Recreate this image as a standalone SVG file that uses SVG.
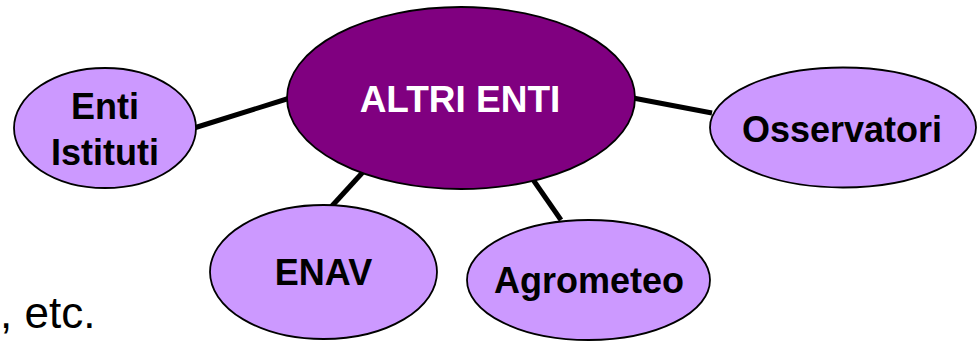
<svg xmlns="http://www.w3.org/2000/svg" width="978" height="341" viewBox="0 0 978 341">
<style>
.node ellipse{fill:#CC99FF;stroke:#000;stroke-width:1.8}
#center ellipse{fill:#800080}
.lbl{font-family:"Liberation Sans",Arial,sans-serif;font-weight:bold;font-size:36px;fill:#000;text-anchor:middle}
#center .lbl{fill:#fff;font-size:37px}
#connectors line{stroke:#000;stroke-width:5;stroke-linecap:butt}
.plain{font-family:"Liberation Sans",Arial,sans-serif;font-size:44px;fill:#000}
</style>
<rect width="978" height="341" fill="#fff"/>
<g id="connectors">
<line x1="194" y1="128" x2="290" y2="98"/>
<line x1="633" y1="98" x2="712" y2="113"/>
<line x1="363" y1="172" x2="331" y2="207"/>
<line x1="527" y1="171" x2="561" y2="220"/>
</g>
<g id="center" class="node">
<ellipse cx="461" cy="98" rx="174" ry="91"/>
<text class="lbl" x="460" y="112">ALTRI ENTI</text>
</g>
<g id="enti-istituti" class="node">
<ellipse cx="105" cy="128" rx="91" ry="60"/>
<text class="lbl" x="105" y="119">Enti</text>
<text class="lbl" x="105" y="165">Istituti</text>
</g>
<g id="osservatori" class="node">
<ellipse cx="843" cy="127.5" rx="133" ry="60"/>
<text class="lbl" x="842" y="142">Osservatori</text>
</g>
<g id="enav" class="node">
<ellipse cx="323.5" cy="272" rx="113.5" ry="67"/>
<text class="lbl" x="323.5" y="285">ENAV</text>
</g>
<g id="agrometeo" class="node">
<ellipse cx="588.5" cy="280" rx="121.5" ry="60"/>
<text class="lbl" x="589" y="293">Agrometeo</text>
</g>
<text class="plain" x="0" y="328">, etc.</text>
</svg>
